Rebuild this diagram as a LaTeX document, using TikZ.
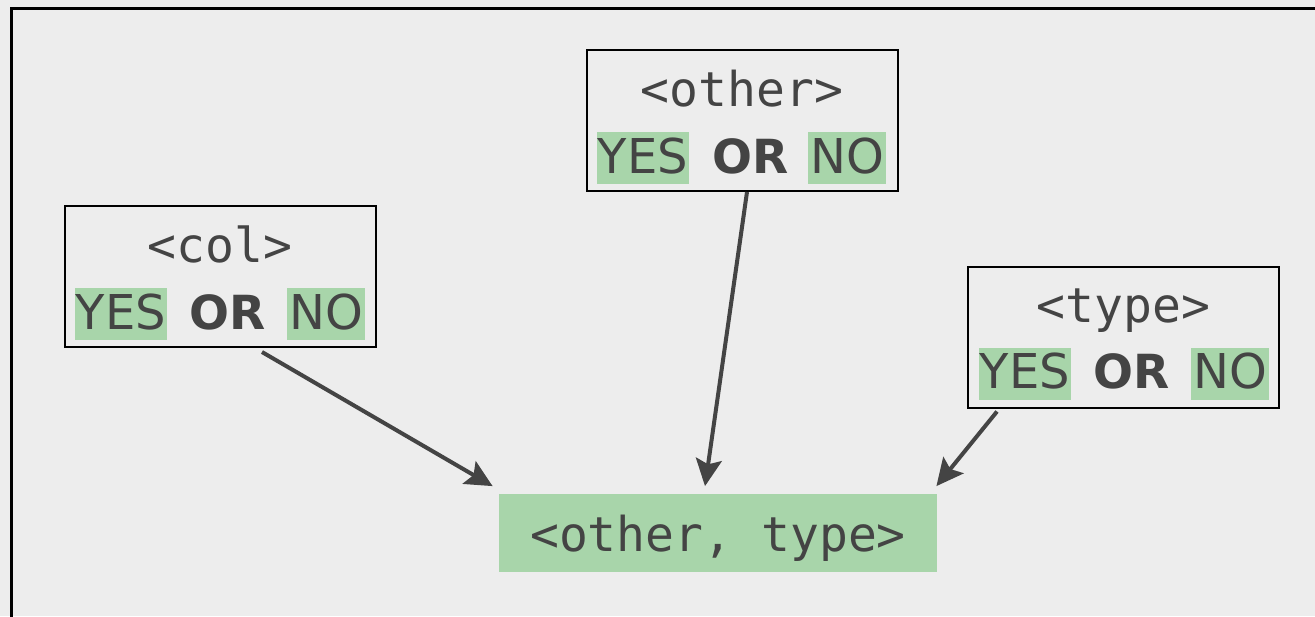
\documentclass[tikz,border=0pt]{standalone}
\usepackage{fontspec}
\setmainfont{DejaVu Sans}
\setmonofont{DejaVu Sans Mono}
\usepackage{tikz}
\usetikzlibrary{arrows.meta,positioning}
\definecolor{bggray}{HTML}{EDEDED}
\definecolor{hlgreen}{HTML}{A8D5AA}
\definecolor{inkgray}{HTML}{444444}
\tikzstyle{choice}=[draw=black,line width=1pt,minimum width=155.5pt,minimum height=70.5pt,inner sep=0pt]
\tikzstyle{header}=[anchor=base,text=inkgray,font=\ttfamily\fontsize{24}{29}\selectfont]
\tikzstyle{yesbox}=[anchor=base,fill=hlgreen,text=inkgray,inner sep=0pt,text height=20.5pt,text depth=5.5pt,minimum width=46pt,font=\fontsize{24}{29}\selectfont]
\tikzstyle{nobox}=[yesbox,minimum width=39pt]
\tikzstyle{orword}=[anchor=base,text=inkgray,font=\bfseries\fontsize{23.5}{29}\selectfont]
\tikzstyle{result}=[fill=hlgreen,text=inkgray,minimum width=219pt,minimum height=39pt,inner sep=0pt,text height=18.5pt,text depth=0pt,font=\ttfamily\fontsize{24}{29}\selectfont]
\tikzstyle{link}=[draw=inkgray,line width=2pt,-{Stealth[length=13.5pt,width=13pt,inset=2.5pt]}]

\begin{document}
\begin{tikzpicture}[x=0.5pt,y=-0.5pt]
\clip (0,0) rectangle (1315,616);
\fill[bggray] (0,0) rectangle (1315,616);
\draw[line width=1.5pt] (11,8) rectangle (1340,640);

% <col>
\node[choice] (col) at (220,276.5) {};
\node[header] (colhead) at (220,262) {<col>};
\node[yesbox] (colyes) at (121,329) {YES};
\node[orword] (color) at (228,329) {OR};
\node[nobox] (colno) at (326,329) {NO};

% <other>
\node[choice] (other) at (742,120.5) {};
\node[header] (otherhead) at (742,106) {<other>};
\node[yesbox] (otheryes) at (643,173) {YES};
\node[orword] (otheror) at (751,173) {OR};
\node[nobox] (otherno) at (847,173) {NO};

% <type>
\node[choice] (type) at (1123.5,337) {};
\node[header] (typehead) at (1123.5,322) {<type>};
\node[yesbox] (typeyes) at (1025,388.5) {YES};
\node[orword] (typeor) at (1132,388.5) {OR};
\node[nobox] (typeno) at (1230,388.5) {NO};

% result
\node[result] (target) at (718,532.5) {<other, type>};

\draw[link] ([xshift=21pt,yshift=-2pt]col.south) -- ([xshift=-3pt,yshift=3.5pt]target.north west);
\draw[link] ([xshift=2.5pt]other.south) -- ([xshift=-6.5pt,yshift=3.5pt]target.north);
\draw[link] ([xshift=15pt,yshift=-1.5pt]type.south west) -- ([xshift=-0.5pt,yshift=3.5pt]target.north east);
\end{tikzpicture}
\end{document}
